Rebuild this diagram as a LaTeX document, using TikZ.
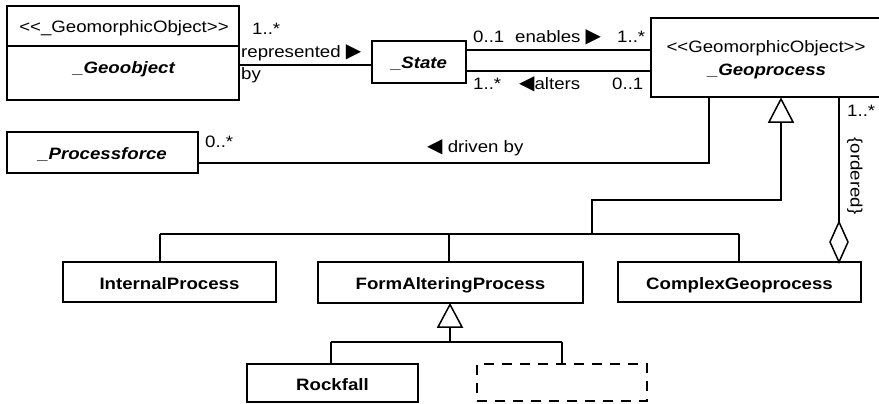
\documentclass[tikz,border=0pt]{standalone}
\usepackage{fontspec}
\setmainfont{Liberation Sans}[FakeStretch=1.13]
\newfontfamily\symfont{DejaVu Sans}
\usetikzlibrary{calc}
% guillemet-free stereotype brackets
\newcommand\stereoL{<\kern0pt<}
\newcommand\stereoR{>\kern0pt>}
% filled direction marks for association names
\newcommand\dirR{{\symfont\fontsize{20}{20}\selectfont ▶}}
\newcommand\dirL{{\symfont\fontsize{20}{20}\selectfont ◀}}
\begin{document}
\begin{tikzpicture}[x=1pt,y=-1pt,
  txt/.style={font=\fontsize{16.5}{19}\selectfont},
  box/.style={draw, line width=2.6pt, inner sep=0pt, text height=14pt, text depth=0pt,
              font=\fontsize{16.5}{19}\selectfont\bfseries},
  abox/.style={box, font=\fontsize{16.5}{19}\selectfont\bfseries\itshape},
  link/.style={line width=1.5pt},
  lbl/.style={txt, inner sep=0pt, anchor=base west},
  ctr/.style={txt, inner sep=0pt, anchor=base},
  gen/.style={draw, line width=1.5pt, fill=white, line join=miter},
]
\useasboundingbox (0,0) rectangle (879,404);
\clip (0,0) rectangle (879,404);

% ---- classes ----
\node[draw, line width=2.6pt, inner sep=0pt, minimum width=232, minimum height=94] (geo) at (123,53) {};
\draw[line width=2pt] (geo.west |- 0,46) -- (geo.east |- 0,46);
\node[ctr] (geohead) at (124,33) {\stereoL\_GeomorphicObject\stereoR};
\node[ctr, font=\fontsize{16.5}{19}\selectfont\bfseries\itshape] (geoname) at (124,74) {\_Geoobject};

\node[abox, minimum width=94, minimum height=42] (state) at (419,62) {\_State};

\node[draw, line width=2.6pt, inner sep=0pt, minimum width=231, minimum height=79] (gp) at (766.5,57.5) {};
\node[ctr] (gphead) at (766,53) {\stereoL GeomorphicObject\stereoR};
\node[ctr, font=\fontsize{16.5}{19}\selectfont\bfseries\itshape] (gpname) at (767,76) {\_Geoprocess};

\node[abox, minimum width=191, minimum height=41] (pf) at (102.5,152.5) {\_Processforce};

\node[box, minimum width=213, minimum height=40] (ip) at (169.5,282) {InternalProcess};
\node[box, minimum width=265, minimum height=41] (fa) at (450.5,282.5) {FormAlteringProcess};
\node[box, minimum width=243, minimum height=40] (cg) at (739.5,282) {ComplexGeoprocess};
\node[box, minimum width=171, minimum height=38] (rf) at (332.5,383) {Rockfall};
\node[draw, line width=2.6pt, dash pattern=on 10pt off 8pt, inner sep=0pt,
      minimum width=170, minimum height=37] (open) at (562,382.5) {};

% ---- associations ----
\draw[link] (geo.east |- 0,65) -- (state.west |- 0,65);
\node[lbl] (m1) at (252,35) {1..*};
\node[lbl] (rep) at (241,58) {represented \dirR};
\node[lbl] (by) at (241,80) {by};

\draw[link] (state.east |- 0,50) -- (gp.west |- 0,50);
\draw[link] (state.east |- 0,71) -- (gp.west |- 0,71);
\node[lbl] (m2) at (473,43) {0..1};
\node[lbl] (en) at (515,43) {enables \dirR};
\node[lbl] (m3) at (617,43) {1..*};
\node[lbl] (m4) at (473,90) {1..*};
\node[lbl] (al) at (519,90) {\dirL alters};
\node[lbl] (m5) at (612,90) {0..1};

\coordinate (dv) at (709,163);
\draw[link] (pf.east |- dv) -- (dv) -- (dv |- gp.south);
\node[lbl] (m6) at (205,147) {0..*};
\node[lbl] (dr) at (427,153) {\dirL\ driven by};

% ---- aggregation ----
\coordinate (agtop) at (839,222);
\draw[link] (agtop |- gp.south) -- (agtop);
\draw[gen] (agtop) -- (848,242) -- (839,262) -- (830,242) -- cycle;
\node[lbl] (m7) at (847,117) {1..*};
\node[txt, inner sep=0pt, rotate=-90] (ord) at (855,176) {\{ordered\}};

% ---- generalization: Geoprocess ----
\coordinate (g1) at (781,122);
\coordinate (g2) at (592,200);
\coordinate (busL) at (160,234);
\coordinate (busM) at (449,234);
\coordinate (busR) at (739,234);
\draw[link] (g1) -- (g1 |- g2) -- (g2) -- (g2 |- busL);
\draw[link] (busL) -- (busR);
\draw[link] (busL) -- (busL |- ip.north);
\draw[link] (busM) -- (busM |- fa.north);
\draw[link] (busR) -- (busR |- cg.north);
\draw[gen] (781,99) -- (793,122) -- (769,122) -- cycle;

% ---- generalization: FormAlteringProcess ----
\coordinate (h1) at (450,327);
\coordinate (hL) at (331,342);
\coordinate (hR) at (562,342);
\draw[link] (h1) -- (h1 |- hL);
\draw[link] (hL) -- (hR);
\draw[link] (hL) -- (hL |- rf.north);
\draw[link] (hR) -- (hR |- open.north);
\draw[gen] (450,304.5) -- (462,327) -- (438,327) -- cycle;
\end{tikzpicture}
\end{document}
